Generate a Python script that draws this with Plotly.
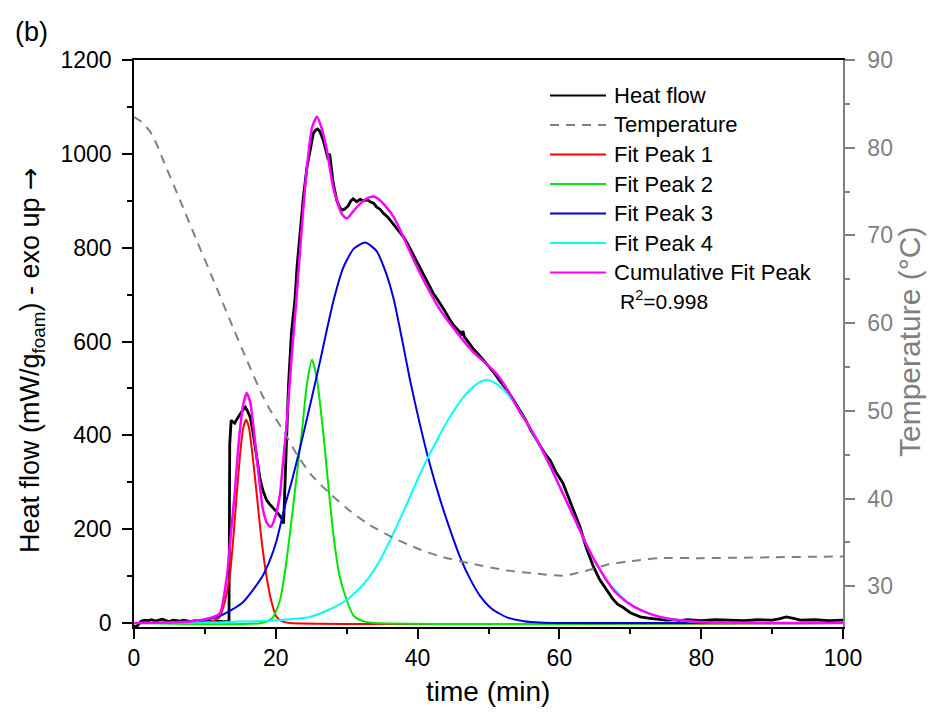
import plotly.graph_objects as go

# ---------------- data ----------------
hf_time = [0, 0.3, 0.6, 1.0, 1.5, 2, 2.5, 3, 3.5, 4, 4.5, 5, 5.5, 6, 6.5, 7, 7.5, 8, 8.5, 9, 9.5, 10,
           10.5, 11, 11.5, 12, 12.5, 13, 13.4, 13.5, 13.7, 14.0, 14.2, 14.5, 14.7, 15.0, 15.4, 15.7, 16.0,
           16.4, 16.8, 17.1, 17.5, 17.8, 18.2, 18.7, 19.1, 19.6, 20.0, 20.4, 20.6, 20.9, 21.1, 21.3, 21.5,
           21.8, 22.2, 22.7, 23.0, 23.4, 23.9, 24.4, 24.9, 25.3, 25.6, 25.9, 26.2, 26.7, 27.1, 27.4, 27.5,
           27.6, 27.8, 28.1, 28.6, 29.0, 29.3, 29.7, 30.2, 30.6, 30.9, 31.4, 31.9, 32.4, 32.9, 33.3, 33.8,
           34.2, 34.7, 35.2, 35.8, 36.4, 37.0, 37.5, 38.0, 38.6, 39.2, 39.8, 40.3, 40.8, 41.3, 42.2, 42.7,
           43.2, 43.8, 44.4, 45.0, 45.6, 46.2, 46.4, 46.6, 47.2, 47.8, 48.5, 49.3, 50.0, 50.8, 51.6, 52.6,
           53.5, 54.4, 55.2, 56.0, 56.7, 57.3, 58.0, 58.7, 59.5, 60.5, 61.2, 62.0, 62.9, 63.8, 64.8, 65.7,
           66.7, 67.5, 68.2, 69.0, 70.0, 71.4, 72.8, 74, 75, 76, 77, 78, 79, 80, 82, 84, 86, 88, 90, 91,
           92, 93, 94, 96, 98, 100]
hf_value = [-6, -8, -4, 4, 6, 5, 7, 4, 6, 8, 5, 3, 6, 5, 4, 6, 5, 3, 5, 4, 5, 3,
            4, 3, 4, 3, 3, 3, 3, 380, 432, 428, 426, 434, 438, 446, 455, 460, 452,
            438, 405, 376, 330, 305, 282, 262, 254, 246, 240, 232, 228, 222, 212, 300, 404,
            510, 618, 690, 760, 831, 910, 972, 1015, 1044, 1050, 1053, 1048, 1029, 1005, 987, 998,
            1000, 975, 937, 901, 886, 880, 882, 889, 900, 904, 898, 903, 900, 902, 898, 895,
            887, 882, 873, 865, 853, 842, 832, 823, 808, 790, 772, 759, 745, 730, 703, 692,
            681, 666, 650, 636, 626, 616, 622, 610, 598, 585, 574, 560, 548, 533, 516, 497,
            476, 454, 434, 410, 392, 376, 360, 347, 322, 298, 272, 240, 205, 160, 120, 92,
            70, 52, 40, 33, 22, 13, 10, 8, 6, 7, 5, 7, 6, 5, 7, 6, 5, 7, 6, 9,
            13, 10, 6, 7, 5, 6]

temp_time = [0, 1, 2.3, 3.2, 4.1, 6.5, 8.8, 11.2, 13.5, 15.9, 18.2, 19.2, 21, 23, 25, 27.6, 30, 33,
             36.6, 40, 43.2, 47.4, 52.6, 56, 60.5, 62.5, 64.8, 67, 69.5, 71.4, 74.2, 80, 90, 100]
temp_value = [83.5, 83.0, 81.8, 80.4, 78.6, 74.0, 69.5, 64.9, 60.4, 55.8, 51.6, 50.1, 47.8, 45.0, 42.7,
              40.6, 38.9, 37.1, 35.5, 34.3, 33.4, 32.6, 31.8, 31.5, 31.2, 31.5, 32.0, 32.5, 32.8, 33.0,
              33.2, 33.2, 33.3, 33.4]

p1_time = [0, 8, 10, 11, 12.1, 12.8, 13.5, 14.0, 14.5, 15.0, 15.4, 15.8, 16.2, 16.7, 17.3, 18.0,
           18.7, 19.4, 20.1, 21, 22, 100]
p1_value = [0, 0, 1, 4, 13, 45, 99, 180, 276, 365, 415, 433, 418, 360, 276, 175,
            99, 45, 13, 3, 0, 0]

p2_time = [0, 18, 19.5, 20.6, 21.3, 22.0, 22.8, 23.65, 24.4, 25.1, 25.8, 26.7, 27.4, 28.1, 29.0,
           30.0, 31.0, 32.3, 34, 100]
p2_value = [0, 0, 10, 49, 110, 191, 295, 404, 510, 561, 520, 404, 295, 191, 100,
            49, 15, 4, 0, 0]

p3_time = [0, 5, 7.4, 10, 12.1, 14, 15.4, 17, 18.2, 19.2, 20.1, 21.3, 22.3, 23.4, 24.8, 26.2, 27.2,
           28.1, 29.5, 31.0, 32.6, 34.2, 35.5, 36.6, 37.8, 38.9, 40.3, 41.7, 43.2, 44.6, 46.0, 47.4,
           48.8, 50.5, 52.6, 55, 57.3, 60, 100]
p3_value = [0, 1, 3, 7, 15, 30, 45, 75, 102, 135, 175, 250, 305, 372, 462, 555, 625,
            685, 757, 798, 811, 793, 748, 692, 605, 520, 425, 340, 262, 198, 140, 94,
            58, 30, 12, 4, 1, 0, 0]

p4_time = [0, 10, 15, 19.2, 22, 24.8, 27, 30.0, 32.5, 34.7, 36.8, 38.9, 40.3, 41.7, 43.2, 44.6, 46.0,
           47.4, 48.6, 49.7, 51, 52, 53, 54.0, 55.5, 57.3, 60.1, 62.0, 63.8, 65.2, 66.7, 69.5, 71.4,
           74.2, 78, 82, 90, 100]
p4_value = [0, 1, 3, 5, 8, 13, 25, 49, 85, 134, 198, 268, 316, 360, 403, 440, 472,
            497, 512, 518, 511, 499, 482, 461, 425, 375, 288, 226, 168, 127, 90, 45, 28,
            13, 4, 1, 0, 0]

cum_time = [0, 5, 8, 10, 11, 12.1, 13.1, 13.6, 14.2, 14.8, 15.4, 15.9, 16.4, 17.1, 17.7, 18.2, 18.8,
            19.3, 19.9, 20.6, 21.0, 21.5, 22.2, 22.9, 23.6, 24.4, 25.1, 25.8, 26.4, 27.2, 28.0, 28.6,
            29.3, 30.0, 30.9, 31.9, 33.0, 33.8, 34.6, 35.5, 36.6, 37.9, 39.5, 41.7, 43.2, 45.5, 47.9,
            49.5, 51.2, 52.8, 54.4, 55.8, 57.3, 58.7, 60.1, 62.0, 63.8, 65.2, 66.7, 68, 69.5, 71.4,
            74.2, 78.9, 82, 90, 100]
cum_value = [0, 1, 3, 8, 12, 20, 99, 180, 276, 390, 465, 490, 470, 383, 300, 241, 212,
             205, 225, 276, 340, 418, 561, 688, 830, 972, 1055, 1079, 1058, 1008, 935, 901,
             872, 862, 877, 894, 906, 909, 902, 888, 866, 826, 772, 706, 667, 620, 577,
             555, 530, 494, 450, 418, 377, 335, 289, 227, 168, 127, 90, 64, 45, 28,
             13, 3, 1, 0, 0]

x_ticks = [0, 20, 40, 60, 80, 100]
y_ticks = [0, 200, 400, 600, 800, 1000, 1200]
y2_ticks = [30, 40, 50, 60, 70, 80, 90]

series_names = ["Heat flow", "Temperature", "Fit Peak 1", "Fit Peak 2", "Fit Peak 3", "Fit Peak 4",
                "Cumulative Fit Peak"]
r2_label = "R<sup>2</sup>=0.998"

# ---------------- styling ----------------
FONT = "Liberation Sans, Arial, sans-serif"
GRAY = "#808080"
colors = ["black", GRAY, "#FF0000", "#00E600", "#0000E0", "#00FFFF", "#FF00FF"]
dashes = ["solid", "9px,7px", "solid", "solid", "solid", "solid", "solid"]
widths = [2.8, 2, 2, 2, 2, 2, 2.5]

# plot area (in page pixels): x 134..843, y 60..627 ; the page adds an 8px body margin
PL, PR, PT, PB = 134, 843, 60, 627
W, H = PR - PL, PB - PT


def px_x(px):
    return (px - PL) / W


def px_y(py):
    return 1 - (py - PT) / H


fig = go.Figure()
series = [(hf_time, hf_value, "y"), (temp_time, temp_value, "y2"), (p1_time, p1_value, "y"),
          (p2_time, p2_value, "y"), (p3_time, p3_value, "y"), (p4_time, p4_value, "y"),
          (cum_time, cum_value, "y")]
for i, (xs, ys, ax) in enumerate(series):
    line = dict(color=colors[i], width=widths[i], dash=dashes[i])
    if i > 0:
        line.update(shape="spline", smoothing=0.6)
    fig.add_trace(go.Scatter(x=xs, y=ys, mode="lines", name=series_names[i], yaxis=ax,
                             line=line, showlegend=False))

fig.update_layout(
    width=928, height=712,
    margin=dict(l=PL - 8, r=928 - (PR - 8), t=PT - 8, b=712 - (PB - 8)),
    paper_bgcolor="white", plot_bgcolor="white",
    font=dict(family=FONT, size=22, color="black"),
    showlegend=False,
    xaxis=dict(range=[0, 100], tickvals=x_ticks, ticks="outside", ticklen=10, tickwidth=1.5,
               tickcolor="black", showline=True, linecolor="black", linewidth=1.5, mirror=True,
               showgrid=False, zeroline=False, tickfont=dict(size=23, color="black"),
               minor=dict(dtick=10, tick0=0, ticks="outside", ticklen=5, tickwidth=1.5,
                          tickcolor="black", showgrid=False)),
    yaxis=dict(range=[-8.5, 1200], tickvals=y_ticks, ticks="outside", ticklen=10, tickwidth=1.5,
               tickcolor="black", showline=True, linecolor="black", linewidth=1.5,
               showgrid=False, zeroline=False, tickfont=dict(size=23, color="black"),
               ticklabelstandoff=6,
               minor=dict(dtick=100, tick0=0, ticks="outside", ticklen=5, tickwidth=1.5,
                          tickcolor="black", showgrid=False)),
    yaxis2=dict(range=[25.35, 90], tickvals=y2_ticks, overlaying="y", side="right",
                ticks="outside", ticklen=10, tickwidth=1.5, tickcolor=GRAY,
                showline=True, linecolor=GRAY, linewidth=1.5, showgrid=False, zeroline=False,
                tickfont=dict(size=23, color=GRAY), ticklabelstandoff=8,
                minor=dict(dtick=5, tick0=0, ticks="outside", ticklen=5, tickwidth=1.5,
                           tickcolor=GRAY, showgrid=False)),
)

annotations = [
    dict(text="(b)", x=px_x(31), y=px_y(32), font=dict(size=27)),
    dict(text="time (min)", x=px_x(488), y=px_y(691), font=dict(size=28)),
    dict(text="Heat flow (mW/g<sub>foam</sub>) - exo up "
              "<span style='font-family:DejaVu Sans'>→</span>",
         x=px_x(31), y=px_y(360), textangle=-90, font=dict(size=27)),
    dict(text="Temperature (°C)", x=px_x(909), y=px_y(342), textangle=-90,
         font=dict(size=30, color=GRAY)),
]
for a in annotations:
    a.update(xref="paper", yref="paper", showarrow=False, xanchor="center", yanchor="middle")

# manual legend (keeps the reference's long line samples)
shapes = []
LEG_Y0, LEG_DY = 95.5, 29.5
for i, name in enumerate(series_names):
    yy = px_y(LEG_Y0 + LEG_DY * i)
    shapes.append(dict(type="line", xref="paper", yref="paper", x0=px_x(550), x1=px_x(606),
                       y0=yy, y1=yy, line=dict(color=colors[i], width=2, dash=dashes[i])))
    annotations.append(dict(text=name, x=px_x(612), y=yy, xref="paper", yref="paper",
                            showarrow=False, xanchor="left", yanchor="middle",
                            font=dict(size=22)))
annotations.append(dict(text=r2_label, x=px_x(618), y=px_y(LEG_Y0 + LEG_DY * 7 - 2), xref="paper",
                        yref="paper", showarrow=False, xanchor="left", yanchor="middle",
                        font=dict(size=21)))
fig.update_layout(annotations=annotations, shapes=shapes)

fig.write_html("out.html")
